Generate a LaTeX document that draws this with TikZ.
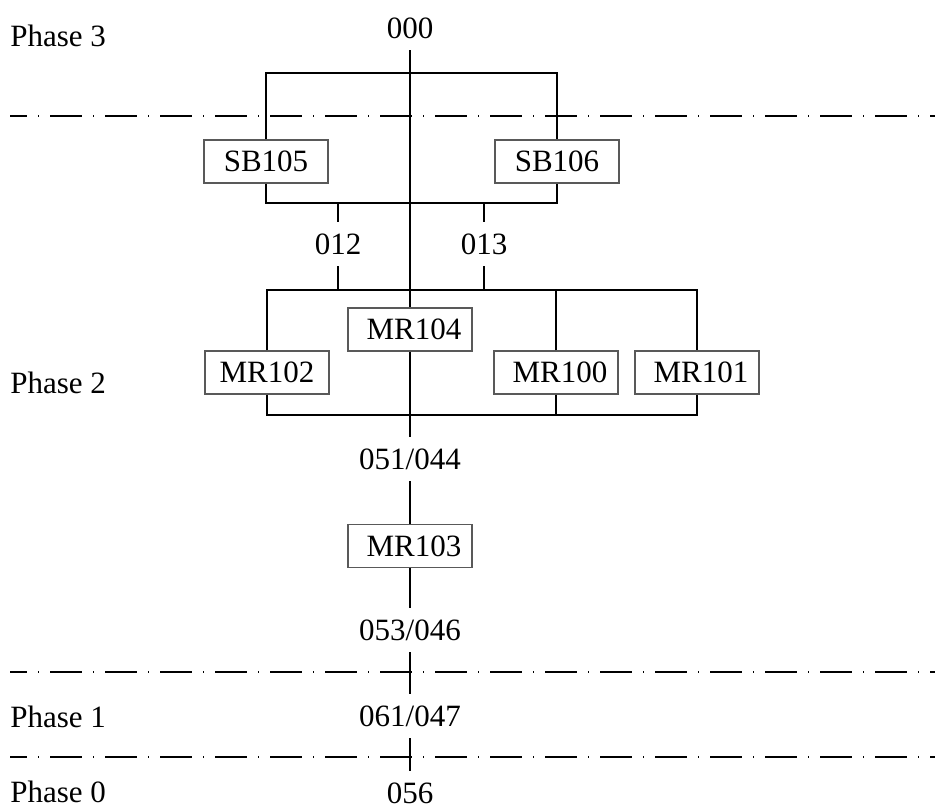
\documentclass[tikz,border=0pt]{standalone}
\usepackage{fontspec}
\setmainfont{Liberation Serif}
\usetikzlibrary{positioning}
\tikzstyle{blk}=[draw=black!65, fill=white, minimum height = 21.5pt, minimum width=62pt, inner sep=0pt, line width=0.65pt]
\tikzstyle{lbl}=[inner sep=0pt, outer sep=6pt]
\tikzstyle{phase}=[anchor=west, inner sep=0pt]
\tikzstyle{lnk}=[line width=1.15pt]
\tikzstyle{sep}=[line width=1.1pt, dash pattern=on 16pt off 5.5pt on 0.5pt off 5.5pt, dash phase=7.5pt]

\begin{document}
\begin{tikzpicture}[x=0.5pt,y=-0.5pt,font=\fontsize{15.5}{18}\selectfont]
\useasboundingbox (0,0) rectangle (938,810);

\node[phase] at (10,36) (ph3) {Phase 3};
\node[phase] at (10,383) (ph2) {Phase 2};
\node[phase] at (10,717) (ph1) {Phase 1};
\node[phase] at (10,792) (ph0) {Phase 0};

\node[lbl] at (410,28) (n000) {000};
\node[blk] at (266,161.5) (sb105) {SB105};
\node[blk] at (557,161.5) (sb106) {SB106};
\node[lbl] at (338,244) (n012) {012};
\node[lbl] at (484,244) (n013) {013};

\node[blk] at (410,329.5) (mr104) {\kern4pt MR104};
\node[blk] at (267,372.5) (mr102) {MR102};
\node[blk] at (556,372.5) (mr100) {\kern4pt MR100};
\node[blk] at (697,372.5) (mr101) {\kern4pt MR101};

\node[lbl, below of = mr104, node distance = 64.75pt] (n051) {051/044};
\node[blk, below of = n051, node distance = 43.5pt] (mr103) {\kern4pt MR103};
\node[lbl, below of = mr103, node distance = 42pt] (n053) {053/046};
\node[lbl, below of = n053, node distance = 43pt] (n061) {061/047};
\node[lbl, below of = n061, node distance = 38.5pt] (n056) {056};

\coordinate (tb) at (410,73);
\coordinate (bb) at (410,203);
\coordinate (t12) at (338,203);
\coordinate (t13) at (484,203);
\coordinate (m12) at (338,290);
\coordinate (m13) at (484,290);
\coordinate (mb) at (697,290);
\coordinate (lb) at (697,415);

\draw[lnk] (sb105) |- (tb) -| (sb106);
\draw[lnk] (sb105) |- (bb) -| (sb106);
\draw[lnk] (t12) -- (n012);
\draw[lnk] (n012) -- (m12);
\draw[lnk] (t13) -- (n013);
\draw[lnk] (n013) -- (m13);

\draw[lnk] (mr102) |- (mb) -- (mr101);
\draw[lnk] (mr102) |- (lb) -- (mr101);
\draw[lnk] (mr100) -- (mr100 |- mb);
\draw[lnk] (mr100) -- (mr100 |- lb);

\draw[lnk] (n000) -- (mr104);
\draw[lnk] (mr104) -- (n051);
\draw[lnk] (n051) -- (mr103);
\draw[lnk] (mr103) -- (n053);
\draw[lnk] (n053) -- (n061);
\draw[lnk] (n061) -- (n056);

\coordinate (s3a) at (10,116);
\coordinate (s3b) at (935,116);
\coordinate (s2a) at (10,672);
\coordinate (s2b) at (935,672);
\coordinate (s1a) at (10,757);
\coordinate (s1b) at (935,757);
\draw[sep] (s3a) -- (s3b);
\draw[sep] (s2a) -- (s2b);
\draw[sep] (s1a) -- (s1b);
\end{tikzpicture}
\end{document}
